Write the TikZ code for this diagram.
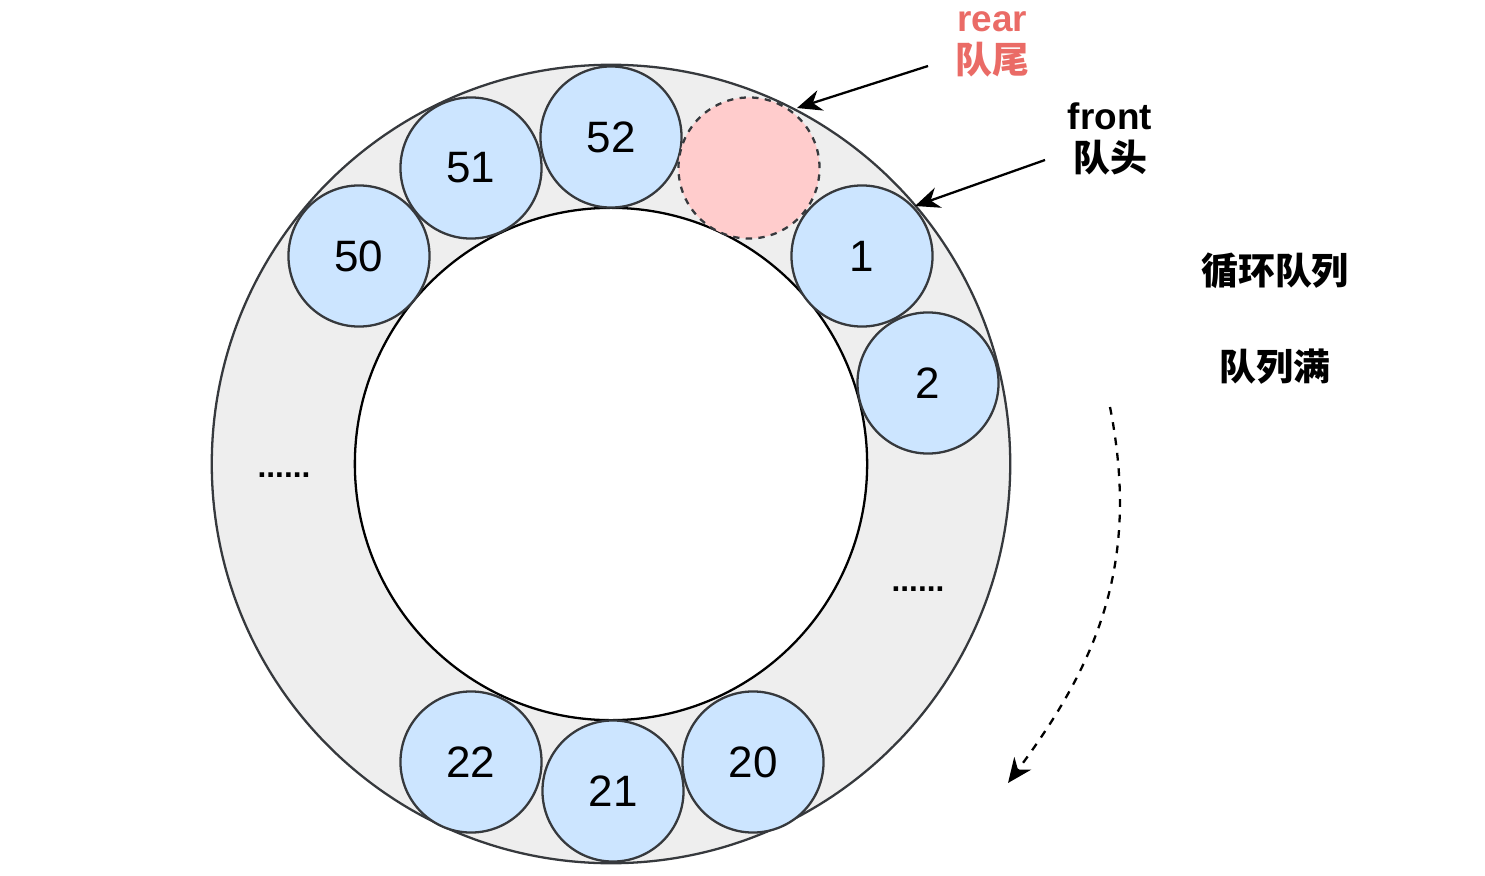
\documentclass[tikz,border=0pt]{standalone}
\usepackage{fontspec}
\setmainfont{Liberation Sans}
\newfontfamily\cjk{Noto Sans CJK SC}
\usetikzlibrary{arrows.meta}
\definecolor{lblue}{RGB}{204,229,255}
\definecolor{ppink}{RGB}{255,204,204}
\definecolor{rgray}{RGB}{238,238,238}
\definecolor{ddark}{RGB}{54,57,61}
\definecolor{rred}{RGB}{234,107,102}
\tikzset{
  cell/.style={circle, draw=ddark, fill=lblue, line width=0.65pt, minimum size=1.41cm, inner sep=0pt, font=\fontsize{12.5}{14}\selectfont},
  slot/.style={cell, fill=ppink, dash pattern=on 1.8pt off 1.8pt},
  ptr/.style={-{Stealth[length=7pt,width=6pt]}, line width=0.65pt},
  lbl/.style={font=\bfseries\fontsize{10.5}{12}\selectfont, align=center},
  dots/.style={font=\bfseries\fontsize{9}{10}\selectfont}
}
\begin{document}
\begin{tikzpicture}[x=0.01cm,y=-0.01cm]
  \useasboundingbox (0,0) rectangle (1485,876);
  % ring
  \coordinate (o) at (611,464);
  \filldraw[fill=rgray, draw=ddark, line width=0.65pt] (o) circle[radius=3.99cm];
  \filldraw[fill=white, draw=black, line width=0.65pt] (o) circle[radius=2.56cm];
  % queue cells
  \node[cell] (c52) at (611,137) {52};
  \node[slot] (rear) at (749,168) {};
  \node[cell] (c51) at (471,168) {51};
  \node[cell] (c50) at (359,256) {50};
  \node[cell] (c1) at (862,256) {1};
  \node[cell] (c2) at (928,383) {2};
  \node[cell] (c22) at (471,762) {22};
  \node[cell] (c21) at (613,791) {21};
  \node[cell] (c20) at (753,762) {20};
  \node[dots] (d1) at (284,475) {......};
  \node[dots] (d2) at (918,589) {......};
  % labels
  \node[lbl, text=rred] (rearlbl) at (992,44) {rear\\{\cjk 队尾}};
  \node[lbl] (frontlbl) at (1110,139) {front\\{\cjk 队头}};
  \node[lbl] (title) at (1275,271) {\cjk 循环队列};
  \node[lbl] (full) at (1275,367) {\cjk 队列满};
  % pointers
  \coordinate (rs) at (928,66);
  \coordinate (re) at (797,108);
  \coordinate (fs) at (1045,160);
  \coordinate (fe) at (915,206);
  \draw[ptr] (rs) -- (re);
  \draw[ptr] (fs) -- (fe);
  \coordinate (ts) at (1110,407);
  \coordinate (te) at (1008,783);
  \draw[ptr, dash pattern=on 2.2pt off 2.2pt] (ts) .. controls (1140,560) and (1100,660) .. (te);
\end{tikzpicture}
\end{document}
